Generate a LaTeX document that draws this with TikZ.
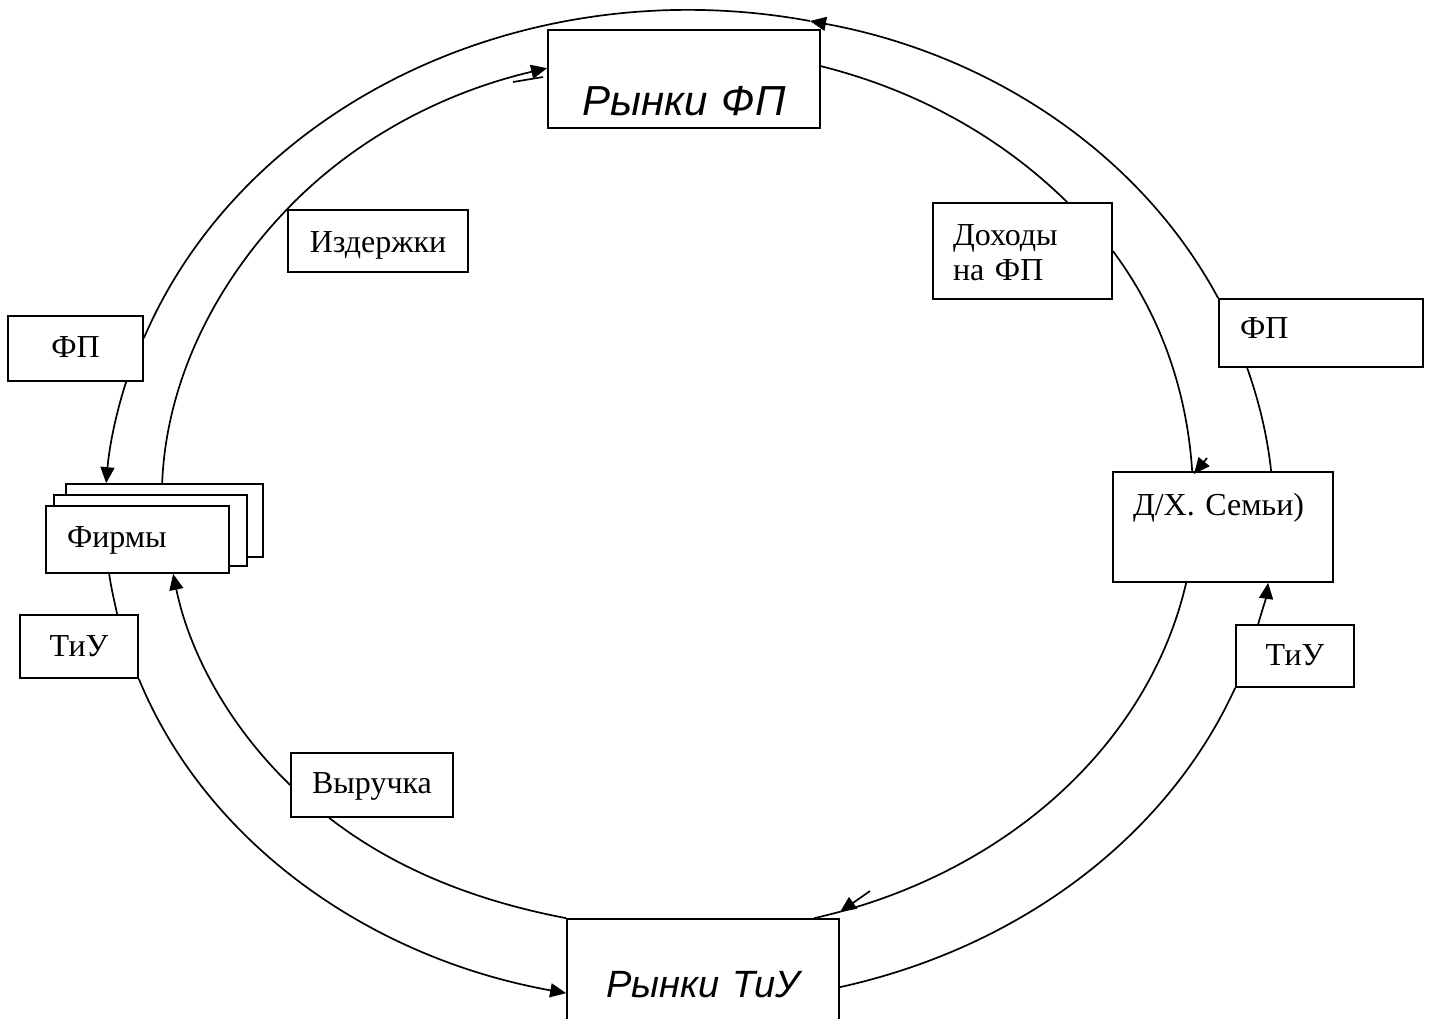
\documentclass[tikz,border=0pt]{standalone}
\usepackage{fontspec}
\setmainfont{Liberation Serif}
\newfontfamily\arialfont{Liberation Sans}
\usetikzlibrary{arrows.meta,calc}
\begin{document}
\begin{tikzpicture}[x=1pt,y=-1pt,line width=1.7pt,
  bx/.style={draw, fill=white, inner sep=0pt, font=\fontsize{32}{35}\selectfont},
  big/.style={bx, font=\arialfont\itshape\fontsize{42}{46}\selectfont},
  arr/.style={-{Triangle[length=16pt,width=14pt]}}]
\useasboundingbox (0,0) rectangle (1432,1018);
% boxes
\node[big, text width=272pt, align=center, text height=85pt, text depth=13pt] (rfp) at (684,79) {Рынки ФП};
\node[big, font=\arialfont\itshape\fontsize{38}{42}\selectfont, text width=272pt, align=center, text height=78pt, text depth=43pt] (rtu) at (703,979.5) {Рынки ТиУ};
\node[bx, text width=180pt, align=center, text height=42pt, text depth=20pt] (izd) at (378,241) {Издержки};
\node[bx, inner xsep=20pt, text width=139pt, align=left, text height=42pt, text depth=54pt] (dox) at (1022.5,251) {Доходы\\на ФП};
\node[bx, text width=135pt, align=center, text height=41pt, text depth=24pt] (fpl) at (75.5,348.5) {ФП};
\node[bx, inner xsep=21pt, text width=162pt, align=left, text height=39pt, text depth=29pt] (fpr) at (1321,333) {ФП};
\node[bx, inner xsep=20pt, text width=180pt, align=left, text height=43pt, text depth=67pt] (dh) at (1223,527) {Д/Х. Семьи)};
\node[bx, minimum width=197pt, minimum height=73pt] (firm3) at (164.5,520.5) {};
\node[bx, minimum width=193pt, minimum height=71pt] (firm2) at (150.5,530.5) {};
\node[bx, inner xsep=21pt, text width=141pt, align=left, text height=41pt, text depth=26pt] (firm1) at (137.5,539.5) {Фирмы};
\node[bx, text width=118pt, align=center, text height=41pt, text depth=22pt] (tul) at (79,646.5) {ТиУ};
\node[bx, text width=118pt, align=center, text height=40pt, text depth=22pt] (tur) at (1295,656) {ТиУ};
\node[bx, text width=162pt, align=center, text height=40pt, text depth=24pt] (vyr) at (372,785) {Выручка};
% free points
\coordinate (topin) at (810,21);
\coordinate (s1a) at (870,891);
\coordinate (s1b) at (840,912);
\coordinate (s2a) at (513,82);
\coordinate (s2b) at (543,77);
\coordinate (s3a) at (1207,458);
\coordinate (s3b) at (1194,474);
% outer ring
\draw[arr] (fpr.north west) .. controls +(-78,-145) and +(180,33) .. (topin);
\draw (topin) .. controls +(-283,-52) and +(101,-235) .. ($(fpl.north east)+(0,23)$);
\draw[arr] ($(fpl.south west)+(119,0)$) .. controls +(-11,34) and +(3,-35) .. ($(firm3.north west)+(41,0)$);
\draw ($(firm1.south west)+(64,0)$) .. controls +(2,14) and +(-3,-14) .. ($(tul.north west)+(98,0)$);
\draw[arr] (tul.south east) .. controls +(66,161) and +(-200,-36) .. ($(rtu.north west)+(0,75)$);
\draw ($(rtu.north east)+(0,69)$) .. controls +(182,-40) and +(-67,147) .. (tur.south west);
\draw[arr] ($(tur.north west)+(23,0)$) .. controls +(4,-14) and +(-2,15) .. ($(dh.south west)+(156,0)$);
\draw ($(dh.north west)+(159,0)$) .. controls +(-4,-36) and +(12,34) .. ($(fpr.south west)+(29,0)$);
% inner ring
\draw ($(dh.south west)+(74,0)$) .. controls +(-37.5,162) and +(191,-43) .. ($(rtu.north west)+(248,0)$);
\draw[arr] (s1a) -- (s1b);
\draw (rtu.north west) .. controls +(-89,-17) and +(67,52) .. ($(vyr.south west)+(39,0)$);
\draw[arr] (vyr.west) .. controls +(-62,-60) and +(16,78) .. ($(firm1.south west)+(128,0)$);
\draw ($(firm3.north west)+(97,0)$) .. controls +(4,-100) and +(-74,77) .. (izd.north west);
\draw[arr] (izd.north west) .. controls +(68,-71) and +(-103,24) .. ($(rfp.north west)+(0,39)$);
\draw (s2a) -- (s2b);
\draw ($(rfp.north east)+(0,37)$) .. controls +(96,24) and +(-66,-65) .. ($(dox.north west)+(135,0)$);
\draw (dox.east) .. controls +(49,65.5) and +(-5,-78) .. ($(dh.north west)+(80,0)$);
\draw[arr] (s3a) -- (s3b);
\end{tikzpicture}
\end{document}
